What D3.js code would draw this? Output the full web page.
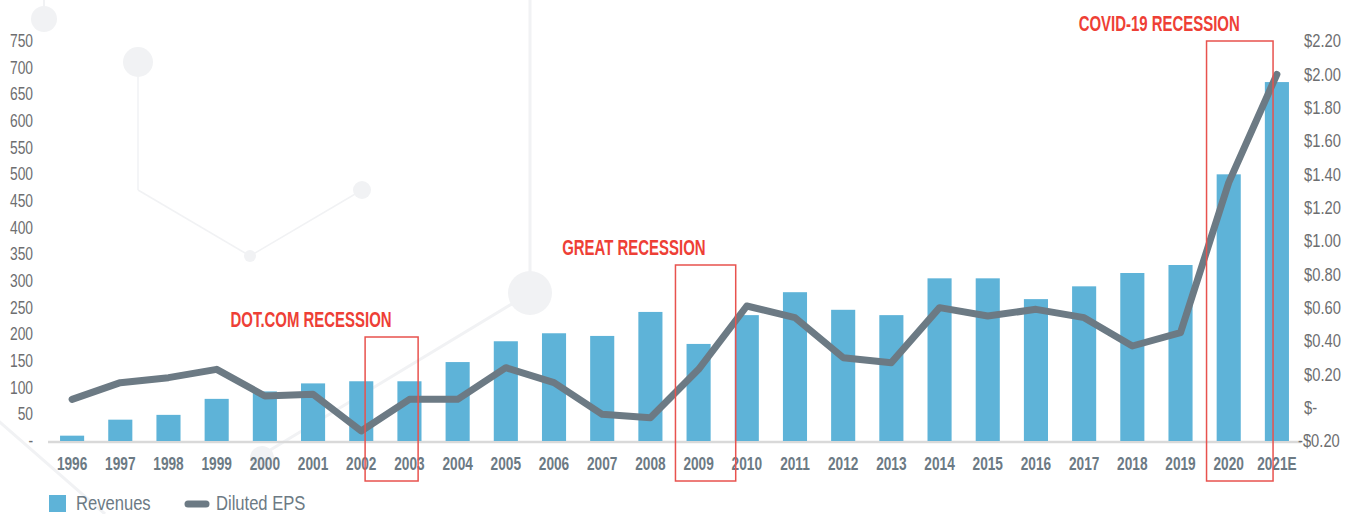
<!DOCTYPE html>
<html>
<head>
<meta charset="utf-8">
<script src="https://cdn.jsdelivr.net/npm/d3@7"></script>
<style>
  body { margin: 0; background: #fff; }
  svg { display: block; }
  text { font-family: "Liberation Sans", Arial, sans-serif; }
</style>
</head>
<body>
<div id="chart"></div>
<script>
// years on the x axis
var categories = ["1996", "1997", "1998", "1999", "2000", "2001", "2002", "2003", "2004", "2005",
    "2006", "2007", "2008", "2009", "2010", "2011", "2012", "2013", "2014", "2015",
    "2016", "2017", "2018", "2019", "2020", "2021E"];

// revenues (left axis)
var revenues = [10, 40, 49, 79, 93, 108, 112, 112, 148, 187,
    202, 197, 242, 182, 236, 279, 246, 236, 305, 305,
    266, 290, 315, 330, 500, 673];

// diluted EPS (right axis)
var dilutedEps = [0.05, 0.15, 0.18, 0.23, 0.07, 0.08, -0.14, 0.05, 0.05, 0.24,
    0.15, -0.04, -0.06, 0.23, 0.61, 0.54, 0.30, 0.27, 0.60, 0.55,
    0.59, 0.54, 0.37, 0.45, 1.35, 2.00];

var revenueTicks = [0, 50, 100, 150, 200, 250, 300, 350, 400, 450, 500, 550, 600, 650, 700, 750];
var epsTicks = [-0.2, 0, 0.2, 0.4, 0.6, 0.8, 1.0, 1.2, 1.4, 1.6, 1.8, 2.0, 2.2];

// recession call-outs
var recessionLabels = ["DOT.COM RECESSION", "GREAT RECESSION", "COVID-19 RECESSION"];
var recessionFrom = ["2002", "2009", "2020"];
var recessionTo = ["2003", "2009", "2021E"];

var width = 1361, height = 514;
var margin = { top: 41, right: 60, bottom: 73, left: 48 };
var plotW = width - margin.left - margin.right,
    plotH = height - margin.top - margin.bottom;

var blue = "#5eb3d8", slate = "#6c7a84", red = "#ee3f36", grey = "#6d6e70";

// the original uses a condensed face, so squeeze regular text horizontally
function squeeze(sel, k) {
    sel.each(function() {
        var t = d3.select(this);
        var x0 = +t.attr("x") || 0, dx0 = parseFloat(t.attr("dx")) || 0;
        t.attr("x", x0 / k).attr("dx", dx0 / k).attr("transform", "scale(" + k + ",1)");
    });
}

var svg = d3.select("#chart").append("svg")
    .attr("width", width)
    .attr("height", height);

// faint background decoration
var deco = svg.append("g").attr("fill", "#f1f2f4").attr("stroke", "#f1f2f4");
var decoLines = [[44, 0, 44, 20, 2], [138, 62, 138, 190, 1.5], [138, 190, 250, 256, 1.5], [250, 256, 362, 190, 1.5],
    [530, 0, 530, 293, 3], [530, 293, 262, 455, 3], [-5, 418, 105, 514, 3]];
deco.selectAll("line").data(decoLines).enter().append("line")
    .attr("x1", function(d) { return d[0]; }).attr("y1", function(d) { return d[1]; })
    .attr("x2", function(d) { return d[2]; }).attr("y2", function(d) { return d[3]; })
    .attr("stroke-width", function(d) { return d[4]; });
var decoDots = [[44, 19, 13], [138, 62, 15], [250, 256, 6], [362, 190, 9], [530, 293, 22], [262, 458, 12]];
deco.selectAll("circle").data(decoDots).enter().append("circle")
    .attr("cx", function(d) { return d[0]; }).attr("cy", function(d) { return d[1]; })
    .attr("r", function(d) { return d[2]; }).attr("stroke", "none");

var g = svg.append("g")
    .attr("transform", "translate(" + margin.left + "," + margin.top + ")");

var x = d3.scaleBand()
    .domain(categories)
    .range([0, plotW])
    .paddingInner(0.5)
    .paddingOuter(0.25);

var yLeft = d3.scaleLinear().domain([0, 750]).range([plotH, 0]);
var yRight = d3.scaleLinear().domain([-0.2, 2.2]).range([plotH, 0]);

// baseline
g.append("line")
    .attr("x1", 0).attr("x2", plotW)
    .attr("y1", plotH + 1).attr("y2", plotH + 1)
    .attr("stroke", "#d9d9d9")
    .attr("stroke-width", 2.5);

// left axis
var leftAxis = g.append("g")
    .call(d3.axisLeft(yLeft).tickValues(revenueTicks).tickSize(0).tickPadding(15)
        .tickFormat(function(d) { return d === 0 ? "-" : d; }));
leftAxis.select(".domain").remove();
leftAxis.selectAll("text").attr("fill", grey).style("font-size", "17.5px").call(squeeze, 0.79);

// right axis
var rightAxis = g.append("g")
    .attr("transform", "translate(" + plotW + ",0)")
    .call(d3.axisRight(yRight).tickValues(epsTicks).tickSize(0).tickPadding(3)
        .tickFormat(function(d) {
            if (Math.abs(d) < 1e-9) return "$-";
            return (d < 0 ? "-" : "") + "$" + Math.abs(d).toFixed(2);
        }));
rightAxis.select(".domain").remove();
rightAxis.selectAll("text").attr("fill", grey).style("font-size", "18px")
    .attr("dx", function(d) { return d < 0 ? -6 : 0; })
    .call(squeeze, 0.82);

// bottom axis
var bottomAxis = g.append("g")
    .attr("transform", "translate(0," + plotH + ")")
    .call(d3.axisBottom(x).tickSize(0));
bottomAxis.select(".domain").remove();
bottomAxis.selectAll("text")
    .attr("y", 29).attr("dy", null)
    .attr("fill", slate)
    .style("font-size", "19px")
    .style("font-weight", "bold")
    .call(squeeze, 0.72);

// revenue bars
g.selectAll(".bar")
    .data(revenues)
    .enter().append("rect")
    .attr("class", "bar")
    .attr("x", function(d, i) { return x(categories[i]); })
    .attr("width", x.bandwidth())
    .attr("y", function(d) { return yLeft(d); })
    .attr("height", function(d) { return plotH - yLeft(d); })
    .attr("fill", blue);

// EPS line
var line = d3.line()
    .x(function(d, i) { return x(categories[i]) + x.bandwidth() / 2; })
    .y(function(d) { return yRight(d); });

g.append("path")
    .datum(dilutedEps)
    .attr("d", line)
    .attr("fill", "none")
    .attr("stroke", slate)
    .attr("stroke-width", 7)
    .attr("stroke-linecap", "round")
    .attr("stroke-linejoin", "round");

// recession boxes: left/right offsets in steps from band centres, top in revenue units
var boxLayout = [[0.08, 0.18, 195], [-0.48, 0.77, 330], [-0.46, -0.08, 750]];
var step = x.step();
var centre = function(c) { return x(c) + x.bandwidth() / 2; };

recessionLabels.forEach(function(label, i) {
    var lay = boxLayout[i];
    var x0 = centre(recessionFrom[i]) + lay[0] * step,
        x1 = centre(recessionTo[i]) + lay[1] * step,
        top = yLeft(lay[2]),
        bottom = plotH + 40;
    g.append("rect")
        .attr("x", x0).attr("y", top)
        .attr("width", x1 - x0).attr("height", bottom - top)
        .attr("fill", "none")
        .attr("stroke", "#e8524e")
        .attr("stroke-width", 1.5);
    g.append("text")
        .attr("transform", "translate(" + ((x0 + x1) / 2) + "," + (top - 10) + ") scale(0.68,1)")
        .attr("text-anchor", "end")
        .attr("fill", red)
        .style("font-size", "22px")
        .style("font-weight", "bold")
        .text(label);
});

// legend
var legend = svg.append("g").attr("transform", "translate(49,0)");
legend.append("rect")
    .attr("x", 0).attr("y", 495)
    .attr("width", 17).attr("height", 17)
    .attr("fill", blue);
legend.append("text")
    .attr("x", 27).attr("y", 510)
    .attr("fill", slate)
    .style("font-size", "21px")
    .call(squeeze, 0.79)
    .text("Revenues");
legend.append("line")
    .attr("x1", 139).attr("x2", 157)
    .attr("y1", 504).attr("y2", 504)
    .attr("stroke", slate)
    .attr("stroke-width", 7)
    .attr("stroke-linecap", "round");
legend.append("text")
    .attr("x", 167).attr("y", 510)
    .attr("fill", slate)
    .style("font-size", "21px")
    .call(squeeze, 0.79)
    .text("Diluted EPS");
</script>
</body>
</html>
